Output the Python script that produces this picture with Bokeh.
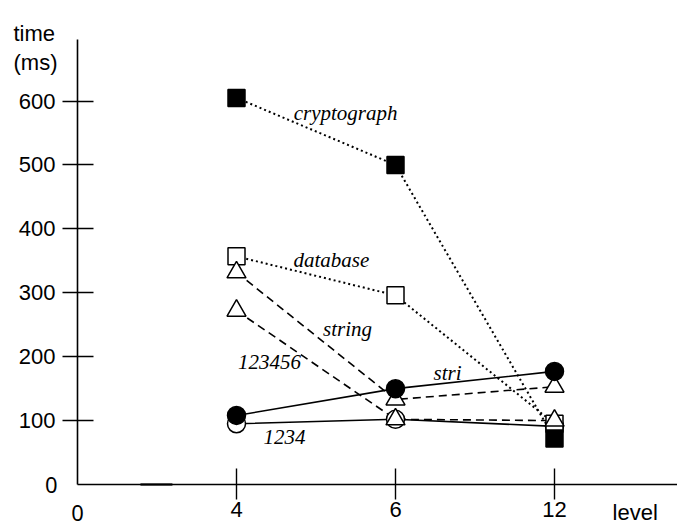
from bokeh.plotting import figure
from bokeh.models import Range1d, FixedTicker, Label, ColumnDataSource, LinearAxis
from bokeh.embed import file_html
from bokeh.resources import INLINE

# ---- data ----
levels = [4, 6, 12]
xpos = [1, 2, 3]  # equally spaced positions for levels
xtick_labels = {1: "4", 2: "6", 3: "12"}
ytick_values = [100, 200, 300, 400, 500, 600]

cryptograph = [605, 500, 72]
database = [357, 296, 95]
string = [332, 133, 153]
s123456 = [272, 102, 100]
stri = [108, 150, 177]
s1234 = [95, 102, 91]

p = figure(width=677, height=527, output_backend="svg", toolbar_location=None,
           x_range=Range1d(-0.4843, 3.7736), y_range=Range1d(-67.3, 757.4),
           x_axis_type=None, y_axis_type=None,
           min_border_left=0, min_border_right=0, min_border_top=0,
           min_border_bottom=0)
p.outline_line_color = None
p.xgrid.visible = False
p.ygrid.visible = False
p.background_fill_color = "white"
p.border_fill_color = "white"

xaxis = LinearAxis(fixed_location=0, bounds=(0, 3.7736),
                   ticker=FixedTicker(ticks=xpos),
                   major_label_overrides=xtick_labels, major_label_standoff=3)
yaxis = LinearAxis(fixed_location=0, bounds=(0, 696.4),
                   ticker=FixedTicker(ticks=ytick_values), major_label_standoff=7)
for ax in (xaxis, yaxis):
    ax.axis_line_width = 1.6
    ax.axis_line_color = "black"
    ax.major_tick_line_width = 1.4
    ax.major_tick_line_color = "black"
    ax.major_tick_out = 15
    ax.major_tick_in = 16
    ax.minor_tick_line_color = None
    ax.major_label_text_font = "Liberation Sans"
    ax.major_label_text_font_size = "22px"
    ax.major_label_text_color = "black"
p.add_layout(xaxis, "below")
p.add_layout(yaxis, "left")

# small segment on the x axis
p.segment(x0=[0.396], y0=[0], x1=[0.597], y1=[0], line_color="#333333", line_width=2.6)

def series(vals, dash, width):
    src = ColumnDataSource(dict(x=xpos, y=vals))
    p.line("x", "y", source=src, line_color="black", line_width=width, line_dash=dash)
    return src

src_1234 = series(s1234, "solid", 1.6)
src_stri = series(stri, "solid", 1.6)
src_string = series(string, "8 5", 1.6)
src_123456 = series(s123456, "8 5", 1.6)
src_db = series(database, "2 3", 2)
src_crypt = series(cryptograph, "2 3", 2)

p.scatter("x", "y", source=src_1234, marker="circle", size=18, fill_color="white",
          line_color="black", line_width=1.5)
p.scatter("x", "y", source=src_db, marker="square", size=17, fill_color="white",
          line_color="black", line_width=1.5)
p.scatter("x", "y", source=src_string, marker="triangle", size=19, fill_color="white",
          line_color="black", line_width=1.5)
p.scatter("x", "y", source=src_123456, marker="triangle", size=19, fill_color="white",
          line_color="black", line_width=1.5)
p.scatter("x", "y", source=src_stri, marker="circle", size=18, fill_color="black",
          line_color="black", line_width=1.5)
p.scatter("x", "y", source=src_crypt, marker="square", size=17, fill_color="black",
          line_color="black", line_width=1.5)

# series labels
def serif_label(x, y, txt):
    p.add_layout(Label(x=x, y=y, text=txt, text_font="Liberation Serif",
                       text_font_style="italic", text_font_size="21px",
                       text_align="center", text_baseline="middle", text_color="black"))

serif_label(1.686, 582, "cryptograph")
serif_label(1.597, 352, "database")
serif_label(1.698, 243, "string")
serif_label(1.208, 191, "123456")
serif_label(1.302, 74, "1234")
serif_label(2.327, 175, "stri")

def sans_label(x, y, txt, align="left", baseline="alphabetic", font="Liberation Sans"):
    p.add_layout(Label(x=x, y=y, text=txt, text_font=font,
                       text_font_size="22px", text_align=align,
                       text_baseline=baseline, text_color="black"))

sans_label(-0.4025, 706, "time")
sans_label(-0.4025, 660, "(ms)")
sans_label(3.365, -44.5, "level", baseline="middle")
sans_label(-0.126, -1.5, "0", align="right", baseline="middle", font="Noto Sans")
sans_label(0.0, -44.5, "0", align="center", baseline="middle", font="Noto Sans")

open("out.html", "w").write(file_html(p, INLINE))
